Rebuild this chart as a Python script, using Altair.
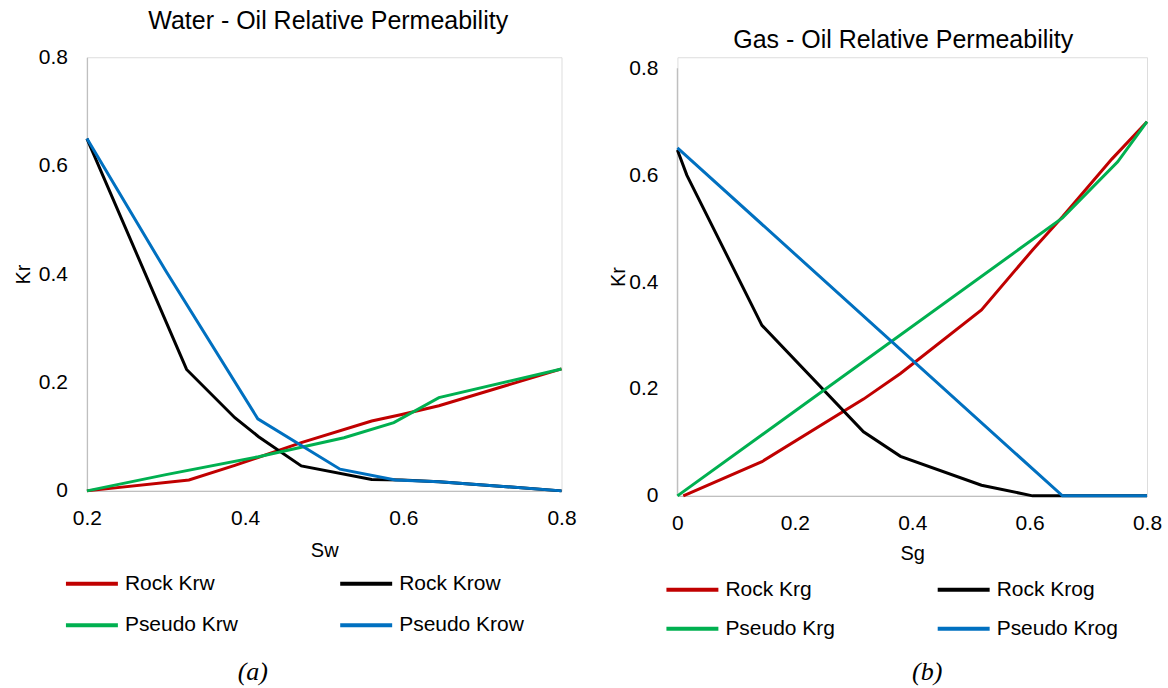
import altair as alt
import pandas as pd

# ---------------- data ----------------
# legend order (column-major, 2 columns): Rock / Pseudo in first column
series_w = ["Rock Krw", "Pseudo Krw", "Rock Krow", "Pseudo Krow"]
series_g = ["Rock Krg", "Pseudo Krg", "Rock Krog", "Pseudo Krog"]
colors = ["#C00000", "#00B050", "#000000", "#0070C0"]

rock_krw_sw = [0.2, 0.329, 0.387, 0.471, 0.56, 0.598, 0.645, 0.8]
rock_krw = [0.0, 0.02, 0.047, 0.089, 0.129, 0.141, 0.157, 0.225]
rock_krow_sw = [0.2, 0.326, 0.387, 0.417, 0.471, 0.56, 0.598, 0.645, 0.8]
rock_krow = [0.65, 0.224, 0.135, 0.10, 0.046, 0.021, 0.02, 0.017, 0.0]
pseudo_krw_sw = [0.2, 0.3, 0.417, 0.525, 0.588, 0.645, 0.8]
pseudo_krw = [0.0, 0.03, 0.063, 0.098, 0.126, 0.172, 0.225]
pseudo_krow_sw = [0.2, 0.3, 0.416, 0.52, 0.59, 0.645, 0.8]
pseudo_krow = [0.65, 0.405, 0.133, 0.04, 0.02, 0.017, 0.0]

rock_krg_sg = [0.01, 0.144, 0.317, 0.38, 0.518, 0.605, 0.656, 0.74, 0.8]
rock_krg = [0.0, 0.064, 0.181, 0.229, 0.348, 0.46, 0.522, 0.63, 0.70]
rock_krog_sg = [0.0, 0.016, 0.144, 0.317, 0.38, 0.518, 0.605, 0.656, 0.8]
rock_krog = [0.647, 0.6, 0.319, 0.12, 0.074, 0.02, 0.0, 0.0, 0.0]
pseudo_krg_sg = [0.0, 0.656, 0.75, 0.8]
pseudo_krg = [0.0, 0.52, 0.625, 0.70]
pseudo_krog_sg = [0.0, 0.656, 0.8]
pseudo_krog = [0.651, 0.0, 0.0]

sw_ticks = [0.2, 0.4, 0.6, 0.8]
sg_ticks = [0.0, 0.2, 0.4, 0.6, 0.8]
kr_ticks = [0.0, 0.2, 0.4, 0.6, 0.8]

title_w = "Water - Oil Relative Permeability"
title_g = "Gas - Oil Relative Permeability"
captions = ["(a)", "(b)"]


def long_df(names, xs_list, ys_list):
    rows = []
    for n, xs, ys in zip(names, xs_list, ys_list):
        for x, y in zip(xs, ys):
            rows.append({"s": x, "kr": y, "series": n})
    return pd.DataFrame(rows)


# drawing order: red, black, green, blue
df_w = long_df(["Rock Krw", "Rock Krow", "Pseudo Krw", "Pseudo Krow"],
               [rock_krw_sw, rock_krow_sw, pseudo_krw_sw, pseudo_krow_sw],
               [rock_krw, rock_krow, pseudo_krw, pseudo_krow])
df_g = long_df(["Rock Krg", "Rock Krog", "Pseudo Krg", "Pseudo Krog"],
               [rock_krg_sg, rock_krog_sg, pseudo_krg_sg, pseudo_krog_sg],
               [rock_krg, rock_krog, pseudo_krg, pseudo_krog])

FONT = "Liberation Sans"
GRAY = "#BFBFBF"
LABEL_EXPR = "datum.value == 0 ? '0' : format(datum.value, '.1f')"


def x_axis(values, title, title_pad):
    return alt.Axis(values=values, title=title, labelExpr=LABEL_EXPR,
                    labelFontSize=21, labelFont=FONT, labelColor="black",
                    labelPadding=17, labelFlush=False, labelOverlap=False,
                    titleFontSize=20, titleFont=FONT, titleFontWeight="normal",
                    titleColor="black", titlePadding=title_pad,
                    ticks=False, grid=False, domainColor=GRAY, domainWidth=1.3)


def y_axis(title_pad, domain=True):
    return alt.Axis(values=kr_ticks, title="Kr", labelExpr=LABEL_EXPR,
                    labelFontSize=21, labelFont=FONT, labelColor="black",
                    labelPadding=19.5, labelOverlap=False,
                    titleFontSize=20, titleFont=FONT, titleFontWeight="normal",
                    titleColor="black", titlePadding=title_pad,
                    ticks=False, grid=False, domain=domain,
                    domainColor=GRAY, domainWidth=1.3)


def legend(x, y, col_pad, row_pad):
    return alt.Legend(orient="none", legendX=x, legendY=y, columns=2,
                      columnPadding=col_pad, rowPadding=row_pad,
                      symbolType="stroke", symbolSize=2704,
                      symbolStrokeWidth=4, clipHeight=21,
                      labelFontSize=21, labelFont=FONT, labelColor="black",
                      labelOffset=5, labelLimit=400, padding=0,
                      symbolOffset=0)


# ---------------- left panel ----------------
left_lines = alt.Chart(df_w).mark_line(strokeWidth=3).encode(
    x=alt.X("s:Q", scale=alt.Scale(domain=[0.2, 0.8], nice=False, zero=False),
            axis=x_axis(sw_ticks, "Sw", 12)),
    y=alt.Y("kr:Q", scale=alt.Scale(domain=[0, 0.8], nice=False),
            axis=y_axis(5)),
    color=alt.Color("series:N", title=None,
                    scale=alt.Scale(domain=series_w, range=colors),
                    legend=legend(-23, 516.5, 99.5, 19.5)),
)

left_caption = alt.Chart(pd.DataFrame({"t": [captions[0]]})).mark_text(
    font="Liberation Serif", fontStyle="italic", fontSize=26,
    baseline="middle", align="center", color="black"
).encode(text="t:N", x=alt.value(166), y=alt.value(615))

left = alt.layer(left_lines, left_caption).properties(
    width=475, height=434,
    title=alt.TitleParams(title_w, fontSize=25, font=FONT, fontWeight="normal",
                          color="black", anchor="middle", frame="group",
                          offset=-8, baseline="alphabetic", dx=4),
)

# ---------------- right panel ----------------
y_top_g = 0.8 * 439 / 428
right_lines = alt.Chart(df_g).mark_line(strokeWidth=3).encode(
    x=alt.X("s:Q", scale=alt.Scale(domain=[0, 0.8], nice=False),
            axis=x_axis(sg_ticks, "Sg", 10)),
    y=alt.Y("kr:Q", scale=alt.Scale(domain=[0, y_top_g], nice=False),
            axis=y_axis(0.5, domain=False)),
    color=alt.Color("series:N", title=None,
                    scale=alt.Scale(domain=series_g, range=colors),
                    legend=legend(-13, 522.5, 100.5, 17)),
)

axis_span = pd.DataFrame({"lo": [kr_ticks[0]], "hi": [kr_ticks[-1]]})
right_axis_line = alt.Chart(axis_span).mark_rule(color=GRAY, strokeWidth=1.3).encode(
    x=alt.value(0), y="lo:Q", y2="hi:Q"
)

right_caption = alt.Chart(pd.DataFrame({"t": [captions[1]]})).mark_text(
    font="Liberation Serif", fontStyle="italic", fontSize=26,
    baseline="middle", align="center", color="black"
).encode(text="t:N", x=alt.value(250), y=alt.value(615))

right = alt.layer(right_axis_line, right_lines, right_caption).properties(
    width=470, height=439,
    title=alt.TitleParams(title_g, fontSize=25, font=FONT, fontWeight="normal",
                          color="black", anchor="middle", frame="group",
                          offset=-16, baseline="alphabetic", dx=-9),
)

chart = alt.hconcat(left, right, spacing=30).resolve_scale(
    color="independent", x="independent", y="independent"
).resolve_legend(color="independent").properties(
    padding={"left": 12, "top": 8, "right": 5, "bottom": 5}
).configure_view(stroke=None).configure(font=FONT)

chart.save("out.html", embed_options={"renderer": "svg", "actions": False})
